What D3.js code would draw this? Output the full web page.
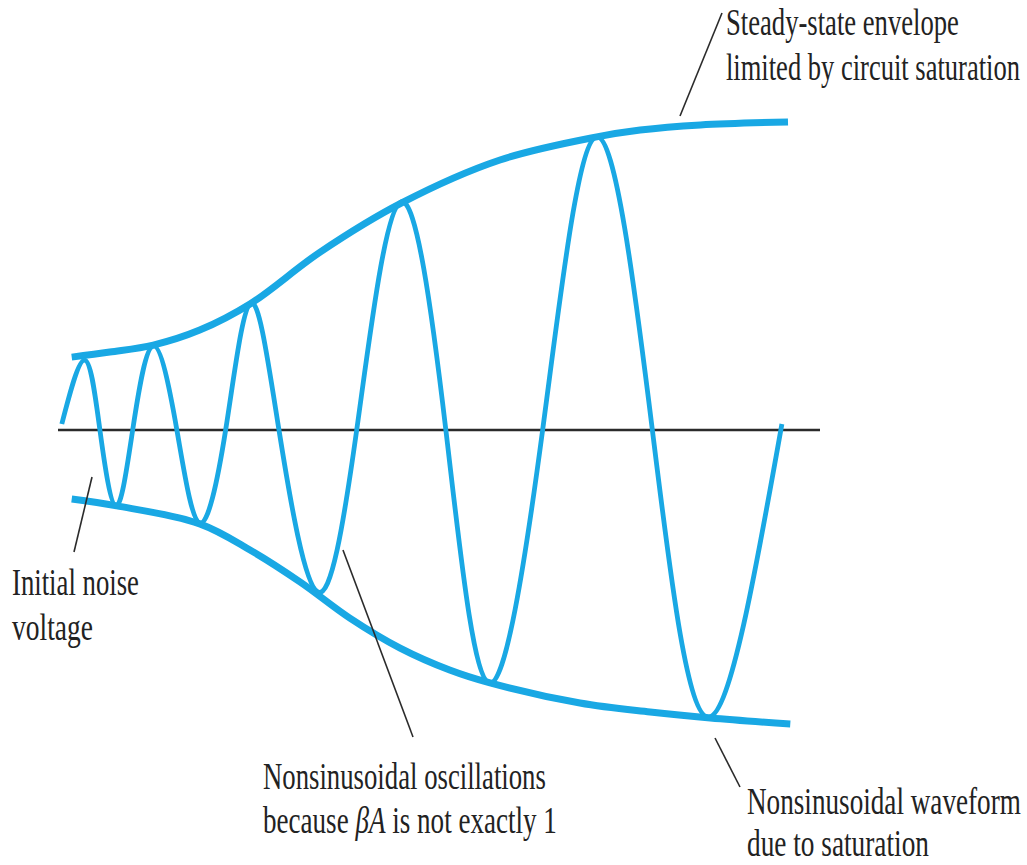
<!DOCTYPE html>
<html>
<head>
<meta charset="utf-8">
<script src="https://cdn.jsdelivr.net/npm/d3@7"></script>
<style>
  html, body { margin: 0; padding: 0; background: #ffffff; }
  svg { display: block; }
</style>
</head>
<body>
<svg id="chart" width="1027" height="865"></svg>
<script>
// ---------------- DATA (time units, voltage units) ----------------
// Oscillation waveform: extremes and zero crossings
const waveTime    = [0.05, 0.35, 0.55, 0.76, 0.98, 1.25, 1.56, 1.86, 2.20, 2.53, 2.90, 3.41, 3.92, 4.50, 5.09, 5.66, 6.36, 7.07, 7.80, 8.54, 9.50];
const waveVoltage = [0.2, 2.33, 0, -2.53, 0, 2.8, 0, -3.1, 0, 4.23, 0, -5.4, 0, 7.6, 0, -8.43, 0, 9.77, 0, -9.57, 0.2];

// Upper envelope
const upperTime    = [0.18, 0.68, 1.25, 1.86, 2.52, 3.44, 4.51, 5.80, 7.07, 7.64, 8.43, 9.58];
const upperVoltage = [2.43, 2.6, 2.83, 3.33, 4.2, 5.93, 7.57, 9.0, 9.77, 10.0, 10.17, 10.27];

// Lower envelope
const lowerTime    = [0.18, 0.77, 1.86, 2.52, 3.18, 3.83, 4.49, 5.14, 5.67, 6.85, 7.77, 8.56, 9.61];
const lowerVoltage = [-2.3, -2.53, -3.13, -4.0, -5.07, -6.27, -7.27, -8.0, -8.43, -9.1, -9.4, -9.6, -9.8];

// Time axis extent
const axisTime = [0, 10];

// Annotation texts
const labelSteady   = ["Steady-state envelope", "limited by circuit saturation"];
const labelNoise    = ["Initial noise", "voltage"];
const labelOscA     = "Nonsinusoidal oscillations";
const labelOscB     = [["because ", "normal"], ["\u03B2A", "italic"], [" is not exactly 1", "normal"]];
const labelWaveform = ["Nonsinusoidal waveform", "due to saturation"];

// ---------------- LAYOUT ----------------
const BLUE = "#19a8e4";
const INK = "#2b2b2b";
const FONT = "Liberation Serif, DejaVu Serif, serif";
const FONT_SIZE = 38;

const svg = d3.select("#chart");
const x = d3.scaleLinear().domain([0, 10]).range([58, 820]);
const y = d3.scaleLinear().domain([-10, 10]).range([730, 130]);

const waveLine = d3.line().x(d => x(d[0])).y(d => y(d[1])).curve(d3.curveNatural);
const envLine = d3.line().x(d => x(d[0])).y(d => y(d[1])).curve(d3.curveCatmullRom.alpha(0.5));
const zip = (a, b) => a.map((v, i) => [v, b[i]]);

// time axis
svg.append("line")
  .attr("x1", x(axisTime[0])).attr("x2", x(axisTime[1]))
  .attr("y1", y(0)).attr("y2", y(0))
  .attr("stroke", INK).attr("stroke-width", 2.6);

// envelopes
svg.append("path").datum(zip(upperTime, upperVoltage))
  .attr("d", envLine).attr("fill", "none").attr("stroke", BLUE).attr("stroke-width", 7);
svg.append("path").datum(zip(lowerTime, lowerVoltage))
  .attr("d", envLine).attr("fill", "none").attr("stroke", BLUE).attr("stroke-width", 7);

// waveform
svg.append("path").datum(zip(waveTime, waveVoltage))
  .attr("d", waveLine).attr("fill", "none").attr("stroke", BLUE).attr("stroke-width", 4.8)
  .attr("stroke-linejoin", "round");

// leader lines (pixel layout for annotations)
const leaders = [
  [92, 477, 74, 552],
  [343, 550, 413, 737],
  [680, 116, 722, 13],
  [715, 738, 740, 787]
];
svg.selectAll("line.leader").data(leaders).join("line")
  .attr("class", "leader")
  .attr("x1", d => d[0]).attr("y1", d => d[1])
  .attr("x2", d => d[2]).attr("y2", d => d[3])
  .attr("stroke", INK).attr("stroke-width", 1.6);

// text helper: place and horizontally fit to a target width
function fitText(parts, xPos, yBase, width) {
  const t = svg.append("text")
    .attr("font-family", FONT).attr("font-size", FONT_SIZE)
    .attr("fill", "#222");
  if (typeof parts === "string") parts = [[parts, "normal"]];
  parts.forEach(p => t.append("tspan").attr("font-style", p[1]).text(p[0]));
  const natural = t.node().getComputedTextLength();
  const sx = width / natural;
  t.attr("transform", `translate(${xPos},${yBase}) scale(${sx},1)`);
  return t;
}

fitText(labelSteady[0], 726, 35, 233);
fitText(labelSteady[1], 726, 80, 294);

fitText(labelNoise[0], 12, 595, 127);
fitText(labelNoise[1], 12, 640, 81);

fitText(labelOscA, 263, 789, 283);
fitText(labelOscB, 263, 833, 294);

fitText(labelWaveform[0], 747, 814, 274);
fitText(labelWaveform[1], 747, 856, 182);
</script>
</body>
</html>
